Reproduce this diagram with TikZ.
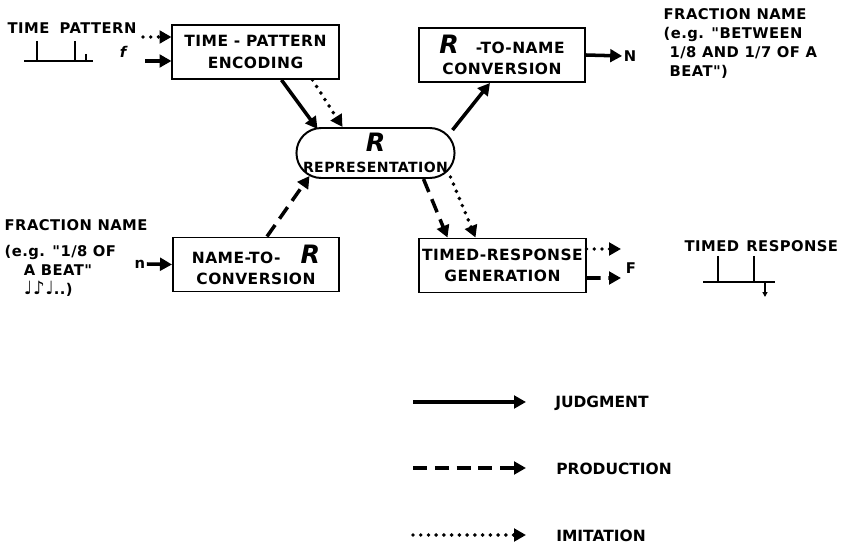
\documentclass[tikz,border=0pt]{standalone}
\usepackage{fontspec}
\setmainfont{DejaVu Sans}
\newfontfamily\letfont{DejaVu Sans Bold}[LetterSpace=3]
\newfontfamily\keyfont{DejaVu Sans Bold}
\usetikzlibrary{positioning, arrows.meta, calc}

\newcommand{\Rsym}{{\fontsize{18}{18}\selectfont\bfseries\itshape R}}
\newcommand{\qt}{\char34\relax}

\tikzset{
    blockbox/.style={draw, line width=1.4pt, minimum width=4.15cm, minimum height=1.35cm,
        align=center, inner sep=0pt, font=\letfont\fontsize{11}{15}\selectfont},
    reprbox/.style={draw, line width=1.4pt, rounded corners=0.62cm, minimum width=3.95cm,
        minimum height=1.25cm, align=center, inner sep=0pt, font=\letfont\fontsize{10}{15}\selectfont},
    lbl/.style={inner sep=1pt, font=\letfont\fontsize{10.5}{13.5}\selectfont},
    keylbl/.style={anchor=west, inner sep=0pt, font=\keyfont\fontsize{11}{13}\selectfont},
    judg/.style={line width=2.5pt, -{Triangle[length=8.5pt,width=9pt]}},
    prod/.style={judg, dash pattern=on 10pt off 5.5pt},
    imit/.style={judg, line cap=round, dash pattern=on 0pt off 5.5pt, line width=2.8pt},
    sketch/.style={line width=0.9pt}
}

\begin{document}
\begin{tikzpicture}[x=0.025cm, y=-0.025cm]
    \useasboundingbox (0,0) rectangle (844,544);

    % main blocks
    \node[blockbox] (enc) at (255.5,52) {TIME - PATTERN\\ENCODING};
    \node[blockbox] (r2n) at (502,55) {\Rsym\hspace{1.1em}-TO-NAME\\CONVERSION};
    \node[reprbox] (rep) at (375.5,153) {\Rsym\\REPRESENTATION};
    \node[blockbox] (n2r) at (256,264.5) {NAME-TO-\hspace{1.3em}\Rsym\\CONVERSION};
    \node[blockbox] (trg) at (502.5,265.5) {TIMED-RESPONSE\\GENERATION};

    % inputs and outputs
    \node[lbl, anchor=west] (tpat) at (6,28) {TIME\hspace{0.7em}PATTERN};
    \node[lbl] (fin) at (123,52) {\itshape f};
    \coordinate (fdot) at (143,37);
    \coordinate (fsol) at (145,61);
    \node[lbl] (nin) at (140,264) {n};
    \node[lbl] (Nout) at (630,56) {N};
    \node[lbl] (Fout) at (631,268) {F};
    \coordinate (gdot) at (621,249);
    \coordinate (gdash) at (621,278);

    \node[lbl, anchor=north west, align=left] (fracr) at (662,7)
        {FRACTION NAME\\(e.g. \qt BETWEEN\\\hspace{0.4em}1/8 AND 1/7 OF A\\\hspace{0.4em}BEAT\qt)};
    \node[lbl, anchor=west] (fracl) at (3,225) {FRACTION NAME};
    \node[lbl, anchor=north west, align=left] (fracle) at (3,244)
        {(e.g. \qt 1/8 OF\\\hspace{1.3em}A BEAT\qt\\\hspace{1.3em}{\fontsize{13}{13}\selectfont ♩♪♩}..)};
    \node[lbl, anchor=west] (tresp) at (683,246) {TIMED\hspace{0.5em}RESPONSE};

    % pattern sketches
    \draw[sketch] (24,61) -- (93,61);
    \foreach \x/\t in {37/41, 75/41, 86/54}
        \draw[sketch] (\x,\t) -- (\x,61);
    \draw[sketch] (703,282) -- (775,282);
    \foreach \x in {718, 754}
        \draw[sketch] (\x,256) -- (\x,282);
    \draw[sketch, -{Triangle[length=3.5pt,width=3.5pt]}] (765,283) -- (765,297);

    % connectors
    \draw[imit] (fdot) -- ($(enc.west)+(0,-15)$);
    \draw[judg] (fsol) -- ($(enc.west)+(0,9)$);
    \draw[judg] ($(enc.south)+(26,0)$) -- ($(rep.north)+(-58,2)$);
    \draw[imit] ($(enc.south)+(57,0)$) -- ($(rep.north)+(-33,0)$);
    \draw[judg] ($(rep.north east)+(-3,3)$) -- ($(r2n.south)+(-12,0)$);
    \draw[judg] (r2n.east) -- (Nout.west);
    \draw[prod] (nin.east) -- (n2r.west);
    \draw[prod] ($(n2r.north)+(11,0)$) -- ($(rep.south west)+(14,-3)$);
    \draw[prod] ($(rep.south)+(48,0)$) -- ($(trg.north)+(-55,0)$);
    \draw[imit] ($(rep.south)+(75,-2)$) -- ($(trg.north)+(-27,0)$);
    \draw[imit] ($(trg.east)+(0,-16.5)$) -- (gdot);
    \draw[prod] ($(trg.east)+(0,12.5)$) -- (gdash);

    % key
    \coordinate (k1a) at (413,402);
    \coordinate (k1b) at (526,402);
    \coordinate (k2a) at (413,468);
    \coordinate (k2b) at (526,468);
    \coordinate (k3a) at (413,535);
    \coordinate (k3b) at (526,535);
    \draw[judg] (k1a) -- (k1b);
    \draw[prod] (k2a) -- (k2b);
    \draw[imit] (k3a) -- (k3b);
    \node[keylbl] (kjud) at (555,403) {JUDGMENT};
    \node[keylbl] (kpro) at (556,469) {PRODUCTION};
    \node[keylbl] (kimi) at (556,536) {IMITATION};
\end{tikzpicture}
\end{document}
